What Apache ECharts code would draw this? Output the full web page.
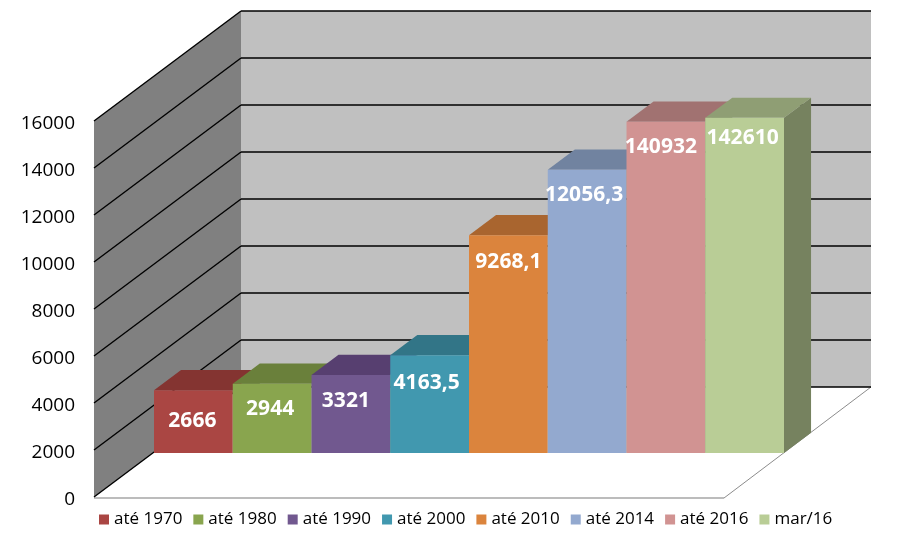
<!DOCTYPE html>
<html>
<head>
<meta charset="utf-8">
<style>html,body{margin:0;padding:0;background:#fff}#c{width:913px;height:548px}</style>
<script src="https://cdn.jsdelivr.net/npm/echarts@6/dist/echarts.min.js"></script>
</head>
<body>
<div id="c"></div>
<script>
var categories = ['até 1970','até 1980','até 1990','até 2000','até 2010','até 2014','até 2016','mar/16'];
var values = [2666, 2944, 3321, 4163.5, 9268.1, 12056.3, 14093.2, 14261];
var valueLabels = ['2666','2944','3321','4163,5','9268,1','12056,3','140932','142610'];
var yTicks = [0,2000,4000,6000,8000,10000,12000,14000,16000];

var frontColors = ['#AA4643','#89A54E','#71588F','#4198AF','#DB843D','#93A9CF','#D19392','#B9CD96'];
var topColors   = ['#843431','#6A803B','#573F70','#327587','#A9652F','#7183A0','#A17271','#8F9E74'];
var sideColor   = '#76825F';
var labelNudge  = [[-1,31],[-2,25],[-5,26],[-3,28],[0,27],[-3,25],[-5,25],[-2,20]];

var wallDx = 147, wallDy = 110, barInset = 0.4, barDepth = 0.184;

function poly(points, fill) {
  return {type:'polygon', shape:{points:points}, style:{fill:fill, stroke:null}};
}
function seg(a, b, color, w) {
  return {type:'line', shape:{x1:a[0],y1:a[1],x2:b[0],y2:b[1]}, style:{stroke:color, lineWidth:w}};
}
function renderWalls(params, api) {
  var band = api.size([1,0])[0];
  var n = categories.length;
  var x0 = api.coord([0,0])[0] - band/2;
  var x1 = x0 + band*n;
  var yb = api.coord([0,0])[1];
  var yt = api.coord([0,16000])[1];
  var kids = [
    poly([[x0+wallDx,yb-wallDy],[x1+wallDx,yb-wallDy],[x1,yb],[x0,yb]], '#FFFFFF'),
    poly([[x0+wallDx,yt-wallDy],[x1+wallDx,yt-wallDy],[x1+wallDx,yb-wallDy],[x0+wallDx,yb-wallDy]], '#C0C0C0'),
    poly([[x0,yt],[x0+wallDx,yt-wallDy],[x0+wallDx,yb-wallDy],[x0,yb]], '#808080'),
    seg([x0,yb+1],[x1,yb+1],'#A6A6A6',1.5),
    seg([x1,yb+1],[x1+wallDx,yb-wallDy],'#8C8C8C',1)
  ];
  yTicks.forEach(function(t){
    var y = api.coord([0,t])[1];
    kids.push(seg([x0,y],[x0+wallDx,y-wallDy],'#000000',1.4));
    kids.push(seg([x0+wallDx,y-wallDy],[x1+wallDx,y-wallDy],'#000000',1.4));
  });
  return {type:'group', children:kids};
}
function renderBar(i) {
  return function(params, api) {
    var band = api.size([1,0])[0];
    var c = api.coord([api.value(0), api.value(1)]);
    var base = api.coord([api.value(0), 0]);
    var ox = wallDx*barInset + 1.2, oy = wallDy*barInset;
    var dx = wallDx*barDepth, dy = wallDy*barDepth;
    var l = base[0]-band/2+ox, r = l+band, yb = base[1]-oy, yt = c[1]-oy;
    return {type:'group', children:[
      poly([[r,yb],[r+dx,yb-dy],[r+dx,yt-dy],[r,yt]], sideColor),
      poly([[l,yt],[l+dx,yt-dy],[r+dx,yt-dy],[r,yt]], topColors[i]),
      poly([[l,yt],[r,yt],[r,yb],[l,yb]], frontColors[i]),
      {type:'text', z2:10, style:{
        x:(l+r)/2+labelNudge[i][0], y:yt+labelNudge[i][1],
        text:valueLabels[i], fill:'#FFFFFF', align:'center', verticalAlign:'middle',
        font:'bold 21px "Open Sans"'
      }}
    ]};
  };
}
var series = [{
  type:'custom', name:'walls', coordinateSystem:'cartesian2d', silent:true, clip:false, z:1,
  data:[[categories[0],0]], encode:{x:0,y:1}, renderItem:renderWalls
}];
categories.forEach(function(name,i){
  series.push({
    type:'custom', name:name, coordinateSystem:'cartesian2d', clip:false, z:2+i,
    itemStyle:{color:frontColors[i]},
    data:[[name,values[i]]], encode:{x:0,y:1}, renderItem:renderBar(i)
  });
});
var chart = echarts.init(document.getElementById('c'), null, {renderer:'canvas'});
chart.setOption({
  animation:false,
  backgroundColor:'#FFFFFF',
  grid:{left:94, top:121, width:630, height:376, containLabel:false},
  xAxis:{type:'category', data:categories, axisLine:{show:false}, axisTick:{show:false}, axisLabel:{show:false}, splitLine:{show:false}},
  yAxis:{type:'value', min:0, max:16000, interval:2000,
    axisLine:{show:false}, axisTick:{show:false}, splitLine:{show:false},
    axisLabel:{color:'#000000', margin:19, fontSize:19, fontFamily:'Open Sans', verticalAlign:'top', lineHeight:6,
      formatter:function(v){return String(v);}}},
  legend:{
    data:categories.map(function(n){return {name:n, icon:'rect'};}),
    left:99, top:511, padding:0, itemWidth:10, itemHeight:10, itemGap:11, selectedMode:false,
    textStyle:{color:'#000000', fontSize:17, fontFamily:'Open Sans'}
  },
  series:series
});
</script>
</body>
</html>
